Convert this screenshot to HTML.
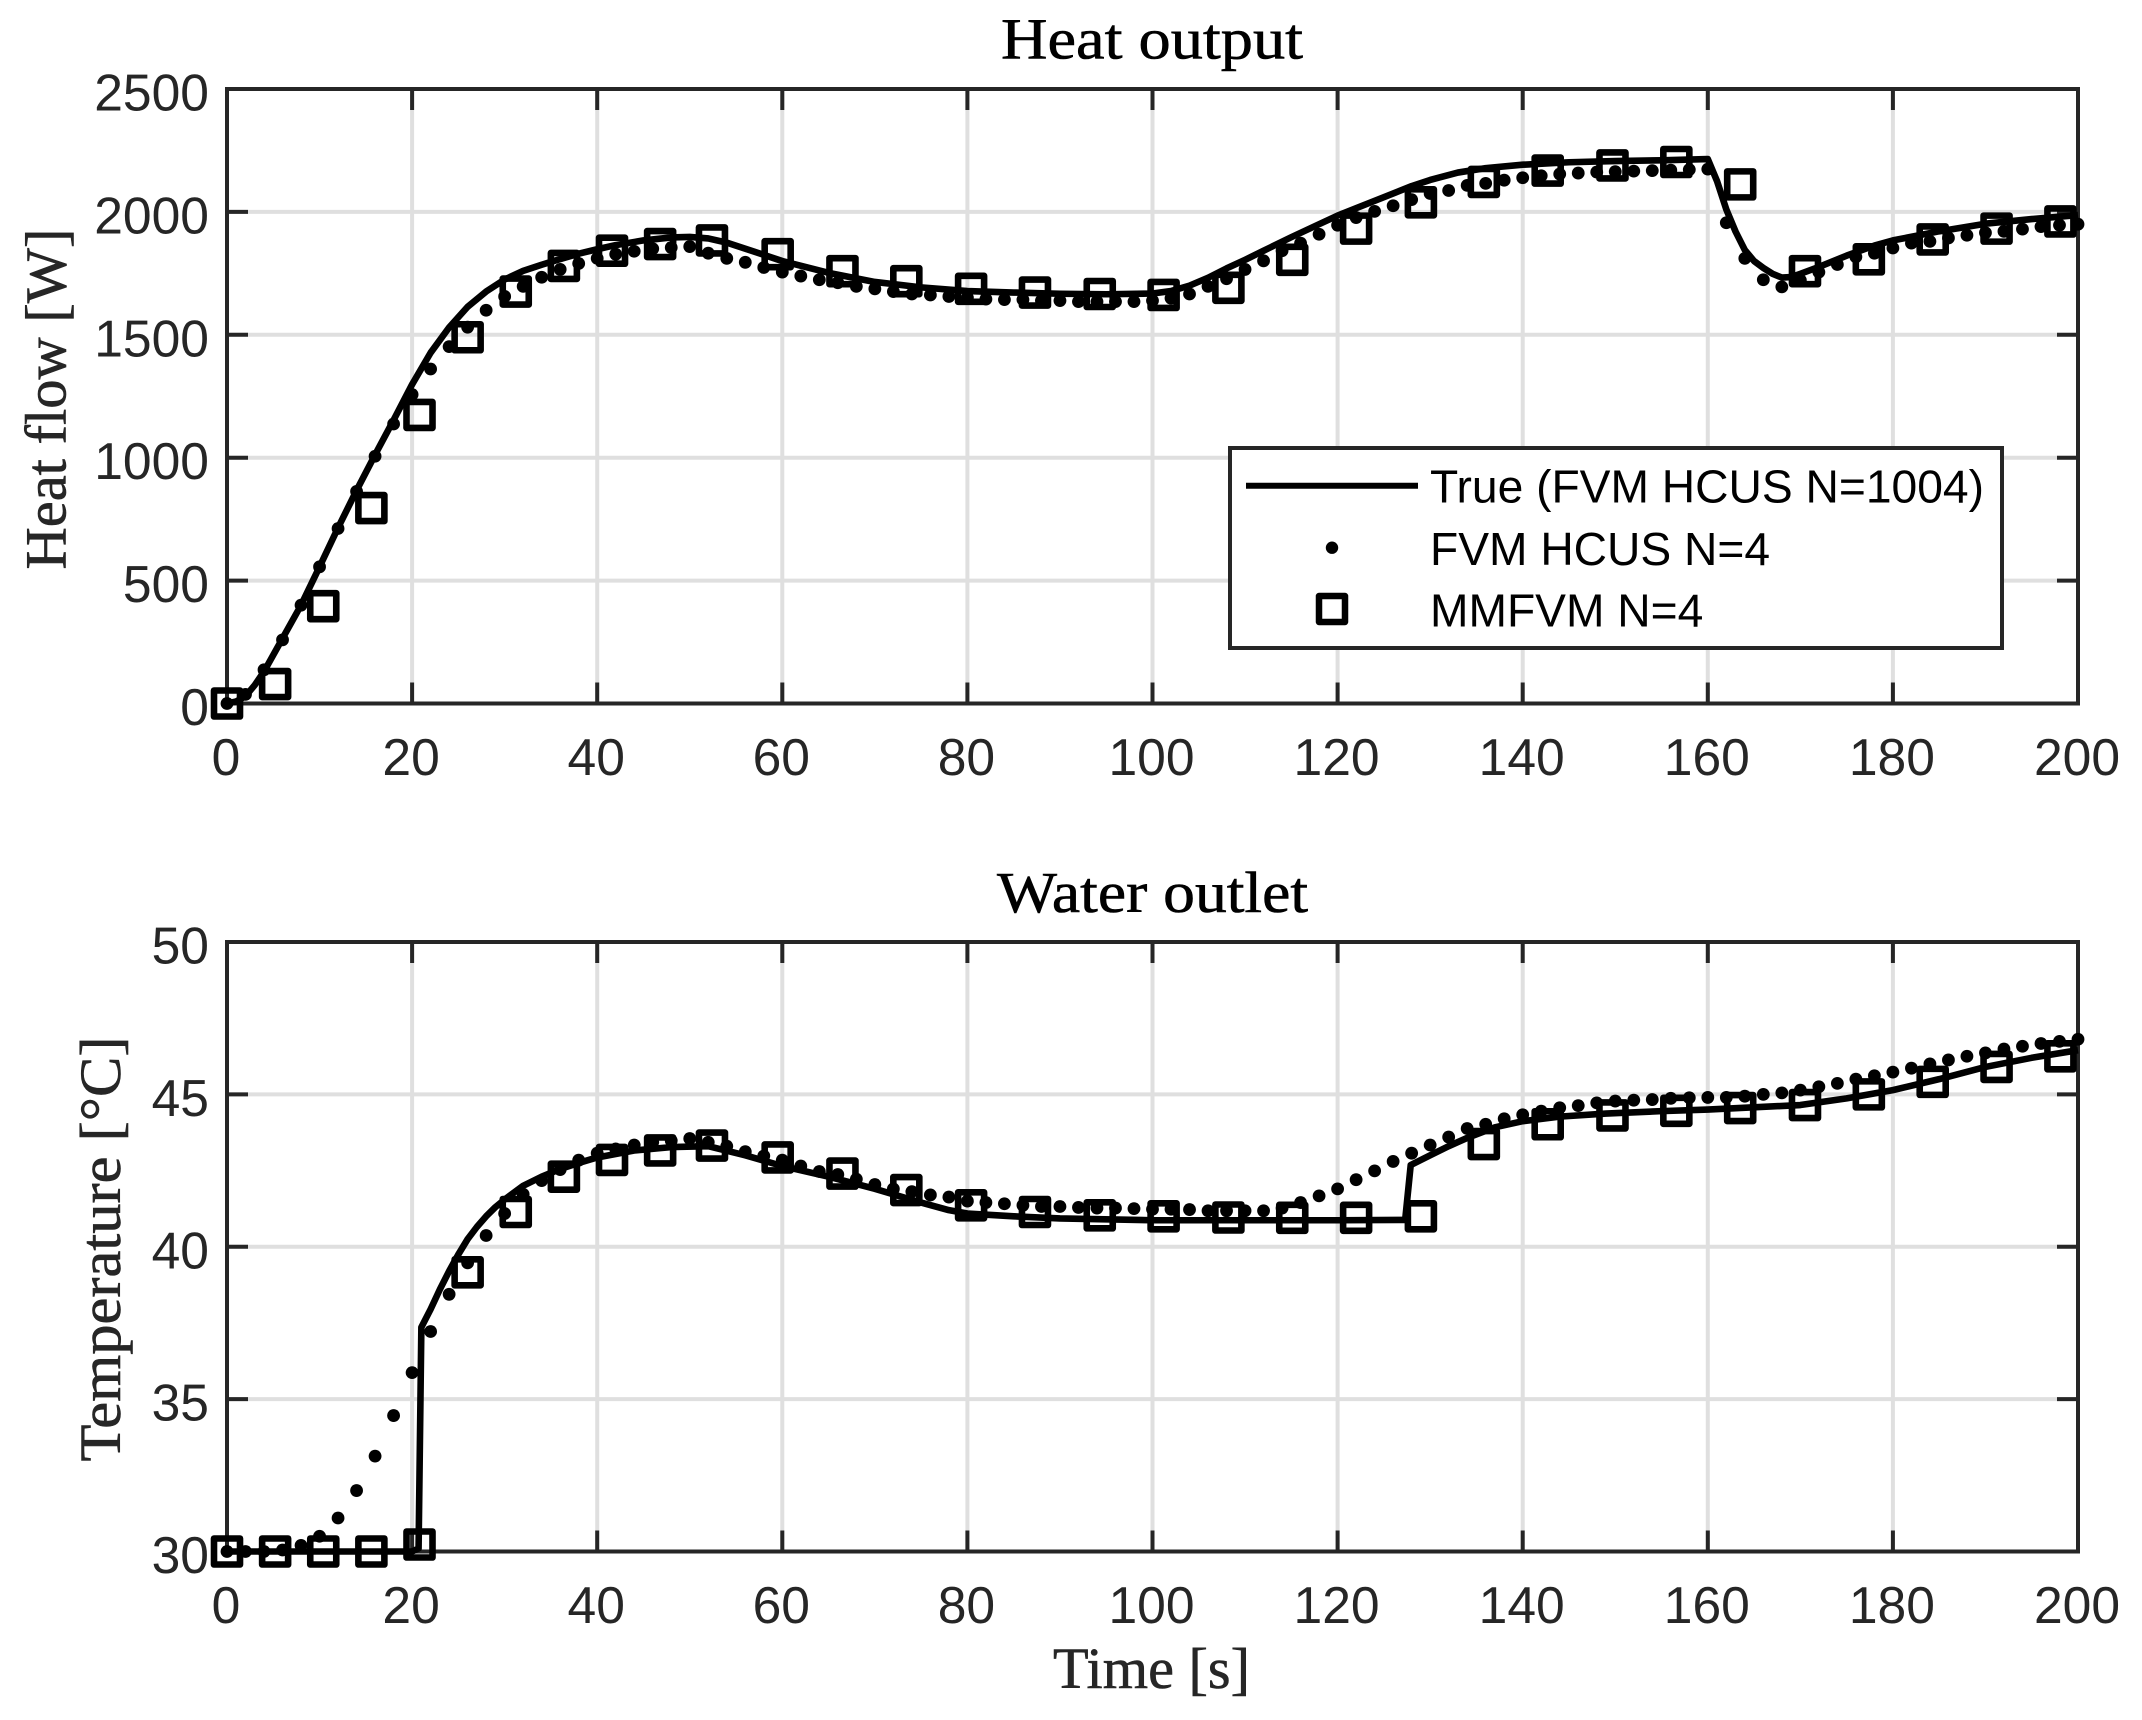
<!DOCTYPE html>
<html lang="en">
<head>
<meta charset="utf-8">
<title>Heat output and water outlet</title>
<style>
html,body{margin:0;padding:0;background:#fff;}
svg{display:block;}
.tick{font-family:"Liberation Sans",sans-serif;font-size:51.6px;fill:#262626;}
.serif{font-family:"Liberation Serif",serif;font-size:58px;stroke-width:0.6px;}
.legend-text{font-family:"Liberation Sans",sans-serif;font-size:46.2px;fill:#000;}
</style>
</head>
<body>
<svg id="chart" xmlns="http://www.w3.org/2000/svg" width="2142" height="1720" viewBox="0 0 2142 1720">
  <rect x="0" y="0" width="2142" height="1720" fill="#fff"/>
  <g id="plot-heat"></g>
  <g id="plot-temp"></g>

  <text class="serif" x="1152" y="58.5" text-anchor="middle" fill="#000" stroke="#000" textLength="302" lengthAdjust="spacingAndGlyphs">Heat output</text>
  <text class="serif" x="1152.5" y="912" text-anchor="middle" fill="#000" stroke="#000" textLength="311" lengthAdjust="spacingAndGlyphs">Water outlet</text>
  <text class="serif" x="1151.5" y="1688" text-anchor="middle" fill="#262626" stroke="#262626" textLength="197" lengthAdjust="spacingAndGlyphs">Time [s]</text>
  <text class="serif" transform="translate(65.5 399) rotate(-90)" text-anchor="middle" fill="#262626" stroke="#262626" textLength="341" lengthAdjust="spacingAndGlyphs">Heat flow [W]</text>
  <text class="serif" transform="translate(120 1249) rotate(-90)" text-anchor="middle" fill="#262626" stroke="#262626" textLength="425" lengthAdjust="spacingAndGlyphs">Temperature [°C]</text>

  <g>
    <rect x="1230" y="448" width="772" height="200" fill="#fff" stroke="#262626" stroke-width="4"/>
    <line x1="1246" y1="485.7" x2="1418" y2="485.7" stroke="#000" stroke-width="6"/>
    <circle cx="1332" cy="547.7" r="6.2" fill="#000"/>
    <rect x="1319" y="596" width="26" height="26" fill="none" stroke="#000" stroke-width="6.5" stroke-linejoin="round"/>
    <text class="legend-text" x="1430" y="502.7">True (FVM HCUS N=1004)</text>
    <text class="legend-text" x="1430" y="565">FVM HCUS N=4</text>
    <text class="legend-text" x="1430" y="626.7">MMFVM N=4</text>
  </g>
</svg>
<script>
// ---- shared tick labels ----
const xTickValues = [0,20,40,60,80,100,120,140,160,180,200];
const heatTickValues = [0,500,1000,1500,2000,2500];
const tempTickValues = [30,35,40,45,50];

// ---- heat output: true curve ----
const heatTrueTime = [0,1,2,3,4,6,8,10,12,14,16,18,20,22,24,26,28,30,32,34,36,38,40,42,45,48,50,52,54,57,60,65,70,75,80,85,90,95,100,102,104,106,108,110,112,115,118,120,122,125,128,130,133,136,140,145,150,155,160,161,162,163,164,165,166,167,168,169,170,172,175,178,180,185,190,195,200];
const heatTrueValues = [0,8,30,75,130,265,400,556,715,867,1012,1153,1298,1427,1530,1614,1676,1725,1760,1785,1808,1830,1848,1865,1884,1896,1898,1892,1875,1838,1800,1752,1715,1693,1678,1672,1667,1665,1668,1678,1700,1732,1770,1805,1842,1897,1950,1985,2015,2060,2105,2130,2160,2178,2192,2202,2207,2210,2215,2125,2010,1920,1845,1800,1772,1748,1733,1735,1748,1776,1822,1863,1884,1921,1952,1971,1987];

// ---- heat output: FVM HCUS N=4, one sample every 2 s ----
const heatFvmTime = [0,2,4,6,8,10,12,14,16,18,20,22,24,26,28,30,32,34,36,38,40,42,44,46,48,50,52,54,56,58,60,62,64,66,68,70,72,74,76,78,80,82,84,86,88,90,92,94,96,98,100,102,104,106,108,110,112,114,116,118,120,122,124,126,128,130,132,134,136,138,140,142,144,146,148,150,152,154,156,158,160,162,164,166,168,170,172,174,176,178,180,182,184,186,188,190,192,194,196,198,200];
const heatFvmValues = [0,37,137,259,400,556,712,863,1006,1137,1257,1361,1452,1531,1600,1656,1697,1734,1766,1790,1811,1828,1840,1850,1855,1859,1832,1811,1795,1774,1755,1739,1724,1712,1697,1687,1676,1666,1662,1656,1651,1645,1643,1643,1639,1639,1635,1635,1635,1635,1639,1649,1666,1697,1728,1766,1801,1842,1873,1909,1946,1977,2002,2025,2050,2075,2087,2108,2116,2129,2139,2147,2154,2158,2162,2164,2166,2168,2170,2172,2174,1956,1811,1724,1695,1722,1755,1786,1817,1832,1853,1873,1880,1894,1905,1915,1921,1930,1940,1946,1950];

// ---- heat output: MMFVM N=4 ----
const mmfvmTime = [0,5.2,10.4,15.6,20.8,26,31.2,36.4,41.6,46.8,52.4,59.5,66.5,73.4,80.4,87.3,94.3,101.2,108.2,115.1,122,129,135.8,142.7,149.7,156.6,163.5,170.5,177.4,184.3,191.2,198.1];
const heatMmfvmValues = [0,79,396,795,1174,1490,1676,1780,1842,1869,1884,1828,1759,1718,1687,1672,1666,1662,1691,1805,1932,2039,2122,2168,2189,2203,2112,1759,1807,1888,1932,1961];

// ---- water outlet: true curve ----
const tempTrueTime = [0,5,10,15,20,20.7,21,22,23,24,25,26,27,28,29,30,32,34,36,38,40,44,48,52,56,60,65,70,75,78,80,85,90,100,110,120,127.3,127.9,130,132,134,137,140,144,149,155,160,170,175,180,185,190,195,200];
const tempTrueValues = [30,30,30,30,30,30.1,37.36,37.95,38.6,39.2,39.75,40.25,40.65,41,41.3,41.55,42,42.3,42.55,42.75,42.93,43.16,43.27,43.3,43,42.65,42.3,41.9,41.45,41.2,41.09,41,40.93,40.87,40.87,40.87,40.88,42.68,43,43.3,43.57,43.92,44.12,44.27,44.37,44.45,44.5,44.65,44.87,45.14,45.5,45.9,46.2,46.45];

// ---- water outlet: FVM HCUS N=4, one sample every 2 s ----
const tempFvmValues = [30,30,30,30.05,30.2,30.5,31.1,32,33.13,34.46,35.87,37.22,38.44,39.47,40.37,41.09,41.72,42.17,42.53,42.84,43.07,43.21,43.34,43.43,43.48,43.55,43.43,43.3,43.12,42.98,42.84,42.65,42.47,42.37,42.22,42.04,41.9,41.81,41.7,41.63,41.5,41.45,41.41,41.36,41.32,41.32,41.29,41.27,41.27,41.25,41.23,41.23,41.22,41.18,41.18,41.18,41.18,41.27,41.45,41.67,41.9,42.2,42.49,42.8,43.07,43.34,43.6,43.88,44.02,44.2,44.33,44.45,44.56,44.63,44.72,44.78,44.81,44.83,44.87,44.89,44.9,44.9,44.94,45,45.05,45.14,45.25,45.36,45.5,45.61,45.73,45.86,46,46.13,46.25,46.36,46.49,46.58,46.67,46.74,46.81];

// ---- water outlet: MMFVM N=4 ----
const tempMmfvmValues = [30,30,30,30,30.23,39.16,41.14,42.3,42.85,43.16,43.32,42.93,42.4,41.86,41.36,41.14,41.03,41,40.96,40.95,40.95,41,43.37,44.02,44.31,44.46,44.55,44.65,45,45.41,45.9,46.25];

const SVGNS = 'http://www.w3.org/2000/svg';

function make(tag, attrs, parent) {
  const el = document.createElementNS(SVGNS, tag);
  for (const k in attrs) el.setAttribute(k, attrs[k]);
  parent.appendChild(el);
  return el;
}

function drawPlot(cfg) {
  const root = document.getElementById(cfg.rootId);
  const x = function (t) { return cfg.left + (t - 0) / 200 * (cfg.right - cfg.left); };
  const y = function (v) { return cfg.bottom - (v - cfg.yMin) / (cfg.yMax - cfg.yMin) * (cfg.bottom - cfg.top); };

  xTickValues.forEach(function (t) {
    const g = make('line', {x1: x(t), x2: x(t), y1: cfg.top, y2: cfg.bottom, stroke: '#dfdfdf', 'stroke-width': 4}, root);
    
    
  });
  cfg.yTicks.forEach(function (v) {
    const g = make('line', {x1: cfg.left, x2: cfg.right, y1: y(v), y2: y(v), stroke: '#dfdfdf', 'stroke-width': 4}, root);
    
    
  });

  const box = make('rect', {x: cfg.left, y: cfg.top, width: cfg.right - cfg.left, height: cfg.bottom - cfg.top, fill: 'none', stroke: '#262626', 'stroke-width': 4}, root);
  
  

  xTickValues.forEach(function (t) {
    [[cfg.bottom, cfg.bottom - 21], [cfg.top, cfg.top + 21]].forEach(function (p) {
      const m = make('line', {x1: x(t), x2: x(t), y1: p[0], y2: p[1], stroke: '#262626', 'stroke-width': 4}, root);
      
      
    });
    const lab = make('text', {x: x(t) - 1, y: cfg.bottom + 71.5, 'text-anchor': 'middle', class: 'tick'}, root);
    
    
    lab.textContent = String(t);
  });
  cfg.yTicks.forEach(function (v) {
    [[cfg.left, cfg.left + 21], [cfg.right, cfg.right - 21]].forEach(function (p) {
      const m = make('line', {x1: p[0], x2: p[1], y1: y(v), y2: y(v), stroke: '#262626', 'stroke-width': 4}, root);
      
      
    });
    const lab = make('text', {x: cfg.left - 18, y: y(v) + 21.5, 'text-anchor': 'end', class: 'tick'}, root);
    
    
    lab.textContent = String(v);
  });

  const d = cfg.trueTime.map(function (t, i) {
    return (i ? 'L' : 'M') + x(t).toFixed(2) + ' ' + y(cfg.trueValues[i]).toFixed(2);
  }).join(' ');
  const line = make('path', {d: d, fill: 'none', stroke: '#000', 'stroke-width': 6.6, 'stroke-linejoin': 'round', 'stroke-linecap': 'butt'}, root);
  
  

  heatFvmTime.forEach(function (t, i) {
    const c = make('circle', {cx: x(t), cy: y(cfg.fvmValues[i]), r: 6.4, fill: '#000'}, root);
    
    
  });

  mmfvmTime.forEach(function (t, i) {
    const s = make('rect', {x: x(t) - 13, y: y(cfg.mmfvmValues[i]) - 13, width: 26, height: 26, fill: 'none', stroke: '#000', 'stroke-width': 6.6, 'stroke-linejoin': 'round'}, root);
    
    
  });
}

drawPlot({rootId: 'plot-heat', left: 227, right: 2078, top: 89, bottom: 703.5, yMin: 0, yMax: 2500, yTicks: heatTickValues,
  trueTime: heatTrueTime, trueValues: heatTrueValues, fvmValues: heatFvmValues, mmfvmValues: heatMmfvmValues});
drawPlot({rootId: 'plot-temp', left: 227, right: 2078, top: 942, bottom: 1551.5, yMin: 30, yMax: 50, yTicks: tempTickValues,
  trueTime: tempTrueTime, trueValues: tempTrueValues, fvmValues: tempFvmValues, mmfvmValues: tempMmfvmValues});
</script>
</body>
</html>
